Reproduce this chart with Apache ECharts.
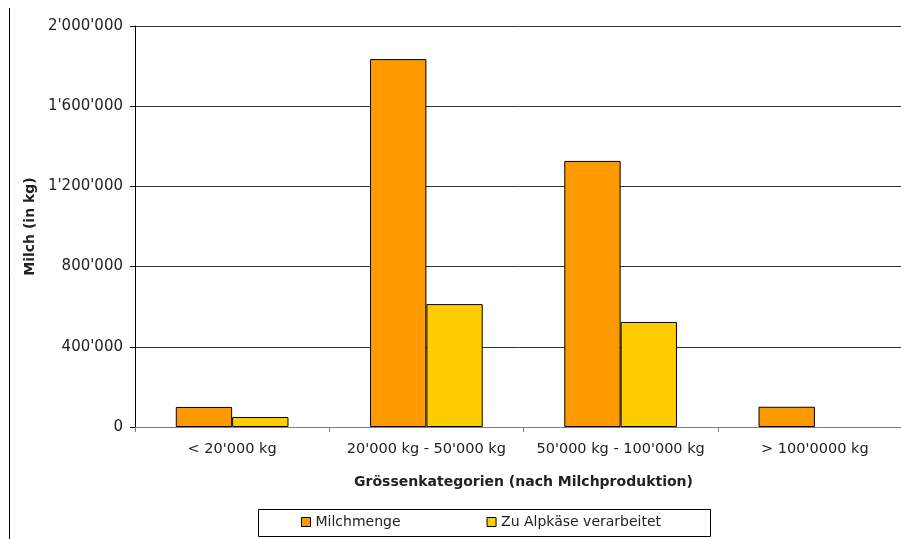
<!DOCTYPE html>
<html><head><meta charset="utf-8">
<script src="https://cdn.jsdelivr.net/npm/echarts@6/dist/echarts.min.js"></script>
<style>html,body{margin:0;padding:0;background:#fff}#c{width:901px;height:539px}</style>
</head><body><div id="c"></div>
<script>
const categories = ["< 20'000 kg", "20'000 kg - 50'000 kg", "50'000 kg - 100'000 kg", "> 100'0000 kg"];
const milchmenge = [100000, 1835000, 1327000, 101000];
const alpkaese = [50000, 613000, 524000, null];
const seriesNames = ["Milchmenge", "Zu Alpkäse verarbeitet"];
const yTicks = [0, 400000, 800000, 1200000, 1600000, 2000000];

function fmt(v){ return String(Math.round(v)).replace(/\B(?=(\d{3})+(?!\d))/g, "'"); }

const chart = echarts.init(document.getElementById('c'));
const font = 'DejaVu Sans, Verdana, sans-serif';
chart.setOption({
  animation: false,
  textStyle: {fontFamily: font},
  grid: {left: 135, width: 777, top: 26, height: 401, outerBoundsMode: 'none'},
  xAxis: {
    type: 'category', data: categories, boundaryGap: true,
    axisLine: {lineStyle: {color: '#808080', width: 1}},
    axisTick: {show: true, length: 5, lineStyle: {color: '#808080'}},
    axisLabel: {color: '#222', fontSize: 14.5, margin: 15, interval: 0, fontFamily: font},
    name: 'Grössenkategorien (nach Milchproduktion)', nameLocation: 'middle', nameGap: 48,
    nameTextStyle: {fontWeight: 'bold', fontSize: 14, color: '#222', fontFamily: font}
  },
  yAxis: {
    type: 'value', min: yTicks[0], max: yTicks[yTicks.length-1], interval: yTicks[1]-yTicks[0],
    axisLine: {show: true, lineStyle: {color: '#000', width: 1}},
    axisTick: {show: true, length: 5, lineStyle: {color: '#000'}},
    axisLabel: {color: '#222', fontSize: 15, margin: 12, formatter: fmt, fontFamily: font},
    splitLine: {lineStyle: {color: '#333', width: 1}},
    name: 'Milch (in kg)', nameLocation: 'middle', nameGap: 95, nameRotate: 90,
    nameTextStyle: {fontWeight: 'bold', fontSize: 14, color: '#222', fontFamily: font}
  },
  legend: {
    data: seriesNames, left: 301, top: 515, itemGap: 86, itemWidth: 9, itemHeight: 9, itemStyle: {borderWidth: 1},
    icon: 'rect', textStyle: {fontSize: 14, color: '#222', fontFamily: font}, padding: 0
  },
  graphic: [
    {type: 'rect', shape: {x: 258.5, y: 509.5, width: 452, height: 27}, style: {fill: 'none', stroke: '#000', lineWidth: 1}, z: -1},
    {type: 'line', shape: {x1: 9.5, y1: 8, x2: 9.5, y2: 539}, style: {stroke: '#000', lineWidth: 1}}
  ],
  series: [
    {name: seriesNames[0], type: 'bar', data: milchmenge, barGap: '0%', barCategoryGap: '42%',
     itemStyle: {color: '#FF9900', borderColor: '#000', borderWidth: 1}},
    {name: seriesNames[1], type: 'bar', data: alpkaese,
     itemStyle: {color: '#FFCC00', borderColor: '#000', borderWidth: 1}}
  ]
});
</script></body></html>
